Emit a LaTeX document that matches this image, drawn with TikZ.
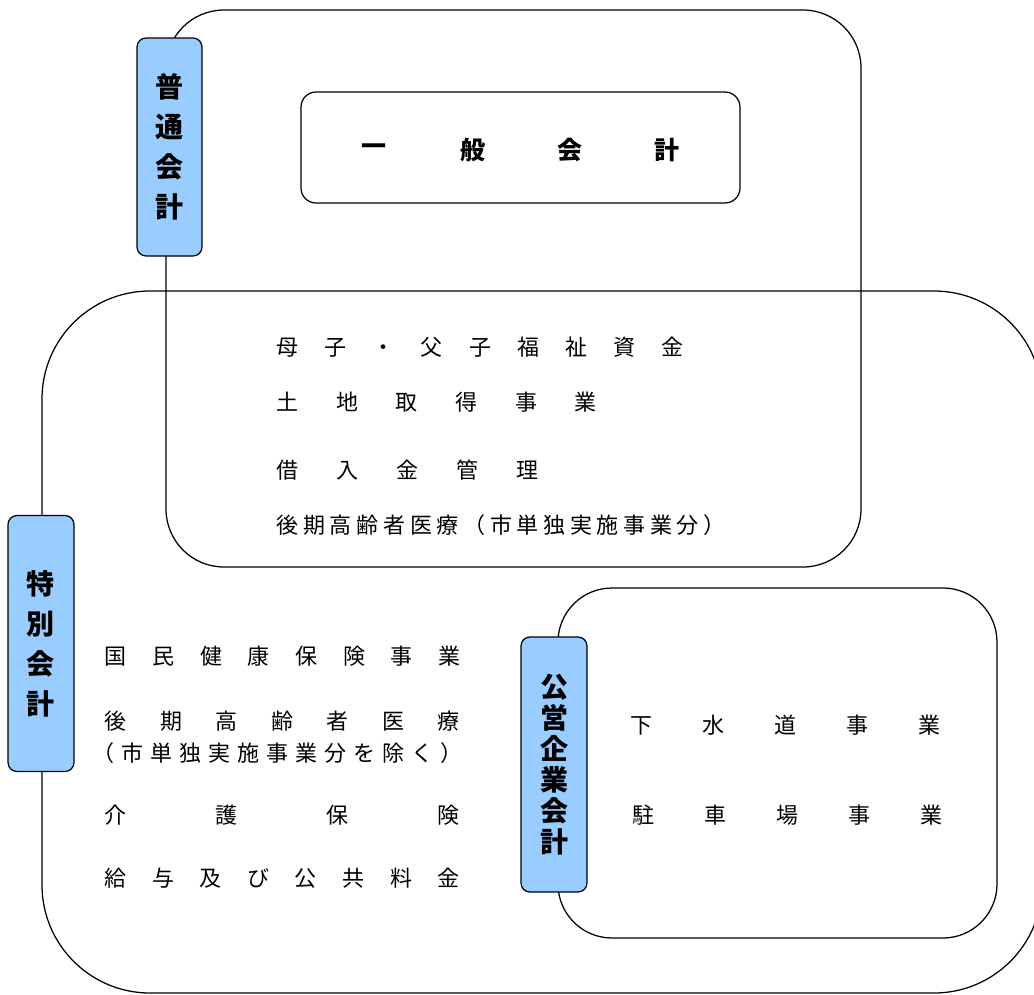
\documentclass[tikz,border=0pt]{standalone}
\usepackage{fontspec}
\newfontfamily\jp{Noto Sans CJK JP}
\definecolor{lblue}{HTML}{99CCFF}
\begin{document}
\begin{tikzpicture}[x=1pt,y=-1pt,line width=1.25pt,
  lbl/.style={draw,fill=lblue,rounded corners=9pt,align=center,inner sep=0pt,
    font=\jp\bfseries\fontsize{28}{40}\selectfont},
  lblsm/.style={lbl,font=\jp\bfseries\fontsize{28}{31}\selectfont},
  txt/.style={anchor=west,inner sep=0pt,font=\jp\fontsize{22}{22}\selectfont},
  ttl/.style={anchor=center,inner sep=0pt,font=\jp\bfseries\fontsize{25}{25}\selectfont}]
\useasboundingbox (0,0) rectangle (1034,994);
% special accounts (clipped on the right)
\begin{scope}
\clip (0,0) rectangle (1034,994);
\draw[rounded corners=108pt] (42,291) rectangle (1042,993);
\end{scope}
% general accounts
\draw[rounded corners=58pt] (166,10) rectangle (861,567);
\draw[rounded corners=15pt] (301,92) rectangle (740,203);
% public enterprise accounts
\draw[rounded corners=54pt] (558,588) rectangle (997,938);

% labels
\node[lbl,minimum width=65pt,minimum height=218pt] (futsu) at (169.5,147) {普\\通\\会\\計};
\node[lbl,minimum width=66pt,minimum height=256pt] (tokubetsu) at (41,643.5) {特\\別\\会\\計};
\node[lblsm,minimum width=66pt,minimum height=255pt] (koei) at (554,764.5) {公\\営\\企\\業\\会\\計};

% general account title
\node[ttl] (g1) at (374,150) {一};
\node[ttl] (g2) at (473,150) {般};
\node[ttl] (g3) at (570,150) {会};
\node[ttl] (g4) at (667,150) {計};

% special accounts inside general area
\node[txt] (s1) at (276,347) {\hbox to 407pt{母\hfil 子\hfil ・\hfil 父\hfil 子\hfil 福\hfil 祉\hfil 資\hfil 金}};
\node[txt] (s2) at (276,402) {\hbox to 320pt{土\hfil 地\hfil 取\hfil 得\hfil 事\hfil 業}};
\node[txt] (s3) at (276,470) {\hbox to 262pt{借\hfil 入\hfil 金\hfil 管\hfil 理}};
\node[txt] (s4) at (276,525) {\hbox to 449pt{後\hfil 期\hfil 高\hfil 齢\hfil 者\hfil 医\hfil 療\hfil （\hfil 市\hfil 単\hfil 独\hfil 実\hfil 施\hfil 事\hfil 業\hfil 分\hfil ）}};

% special accounts left
\node[txt] (k1) at (104,656) {\hbox to 356pt{国\hfil 民\hfil 健\hfil 康\hfil 保\hfil 険\hfil 事\hfil 業}};
\node[txt] (k2) at (104,721) {\hbox to 355pt{後\hfil 期\hfil 高\hfil 齢\hfil 者\hfil 医\hfil 療}};
\node[txt] (k3) at (92,753) {\hbox to 370pt{（\hfil 市\hfil 単\hfil 独\hfil 実\hfil 施\hfil 事\hfil 業\hfil 分\hfil を\hfil 除\hfil く\hfil ）}};
\node[txt] (k4) at (104,815) {\hbox to 355pt{介\hfil 護\hfil 保\hfil 険}};
\node[txt] (k5) at (104,878) {\hbox to 355pt{給\hfil 与\hfil 及\hfil び\hfil 公\hfil 共\hfil 料\hfil 金}};

% public enterprise
\node[txt] (p1) at (630,725) {\hbox to 310pt{下\hfil 水\hfil 道\hfil 事\hfil 業}};
\node[txt] (p2) at (632,815) {\hbox to 310pt{駐\hfil 車\hfil 場\hfil 事\hfil 業}};
\end{tikzpicture}
\end{document}
